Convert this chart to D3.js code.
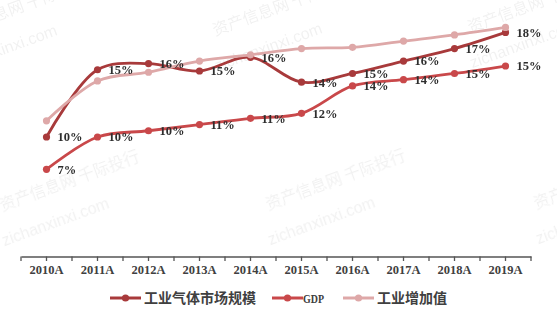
<!DOCTYPE html>
<html>
<head>
<meta charset="utf-8">
<script src="https://cdn.jsdelivr.net/npm/d3@7"></script>
<style>
  body { margin: 0; background: #fff; }
  svg { display: block; }
</style>
</head>
<body>
<svg id="chart" width="557" height="315"></svg>
<script>
// dades
const years = ["2010A", "2011A", "2012A", "2013A", "2014A", "2015A", "2016A", "2017A", "2018A", "2019A"];
const gasMarket = [9.6, 15.0, 15.5, 14.9, 16.0, 14.0, 14.7, 15.7, 16.7, 18.0];
const gdp = [7.0, 9.6, 10.1, 10.6, 11.1, 11.5, 13.7, 14.2, 14.7, 15.3];
const industryAdded = [10.9, 14.1, 14.8, 15.7, 16.2, 16.7, 16.8, 17.3, 17.8, 18.4];
const seriesNames = ["工业气体市场规模", "GDP", "工业增加值"];

const svg = d3.select("#chart");
const margin = { top: 7.5, left: 21, right: 26, bottom: 58.5 };
const width = +svg.attr("width") - margin.left - margin.right;
const height = +svg.attr("height") - margin.top - margin.bottom;

// marca d'aigua
const wm = svg.append("g").style("fill", "#000").style("opacity", 0.055)
  .style("font-family", "'Noto Sans CJK SC', sans-serif").style("font-size", "16px");
[[-50, 38], [215, 36], [470, 33], [2, 211], [268, 210], [536, 209]].forEach(p => {
  const t = wm.append("g").attr("transform", `translate(${p[0]},${p[1]}) rotate(-20)`);
  t.append("text").text("资产信息网 千际投行");
  t.append("text").attr("x", -10).attr("y", 34).style("font-family", "Arial, 'Liberation Sans', sans-serif").text("zichanxinxi.com");
});

const g = svg.append("g").attr("transform", `translate(${margin.left},${margin.top})`);

// Escales
const x = d3.scaleBand().domain(years).range([0, width]);
const y = d3.scaleLinear().domain([0, 20]).range([height, 0]);

// eix X
const xAxis = g.append("g")
  .attr("transform", `translate(0,${height})`)
  .call(d3.axisBottom(x).tickSize(0).tickPadding(9));
xAxis.select(".domain").attr("stroke", "#555").attr("stroke-width", 1.5);
xAxis.selectAll("text")
  .style("font-family", "'Liberation Serif', serif")
  .style("font-weight", "bold")
  .style("font-size", "12.5px")
  .style("fill", "#404040");

// marques: límits i centres de categoria
const tickPos = d3.range(0, years.length * 2 + 1).map(i => i * x.bandwidth() / 2);
xAxis.selectAll(".tk").data(tickPos).enter().append("line")
  .attr("x1", d => d).attr("x2", d => d)
  .attr("y1", 0).attr("y2", 4.5)
  .attr("stroke", "#555").attr("stroke-width", 1.3);

const cx = d => x(d) + x.bandwidth() / 2;

const series = [
  { name: seriesNames[0], values: gasMarket, color: "#a83a3b", labels: true },
  { name: seriesNames[1], values: gdp, color: "#c9484a", labels: true },
  { name: seriesNames[2], values: industryAdded, color: "#dea8a8", labels: false }
];

const line = d3.line()
  .x((d, i) => cx(years[i]))
  .y(d => y(d))
  .curve(d3.curveCatmullRom.alpha(0.5));

series.forEach(s => {
  g.append("path")
    .datum(s.values)
    .attr("fill", "none")
    .attr("stroke", s.color)
    .attr("stroke-width", 2.8)
    .attr("d", line);
  g.selectAll(null).data(s.values).enter().append("circle")
    .attr("cx", (d, i) => cx(years[i]))
    .attr("cy", d => y(d))
    .attr("r", 3.6)
    .attr("fill", s.color);
});

// etiquetes
series.filter(s => s.labels).forEach(s => {
  g.selectAll(null).data(s.values).enter().append("text")
    .attr("x", (d, i) => cx(years[i]) + 11)
    .attr("y", d => y(d))
    .attr("dy", "0.35em")
    .style("font-family", "'Liberation Serif', serif")
    .style("font-weight", "bold")
    .style("font-size", "12.5px")
    .style("fill", "#2e2e2e")
    .text(d => Math.round(d) + "%");
});

// llegenda
const legendPos = [110, 272, 343];
const legend = svg.append("g").attr("transform", "translate(0,298)");
series.forEach((s, i) => {
  const lg = legend.append("g").attr("transform", `translate(${legendPos[i]},0)`);
  lg.append("line").attr("x1", 0).attr("x2", 31).attr("stroke", s.color).attr("stroke-width", 3);
  lg.append("circle").attr("cx", 15.5).attr("r", 3.6).attr("fill", s.color);
  const t = lg.append("text")
    .attr("x", i === 1 ? 31 : 34)
    .attr("dy", "0.36em")
    .style("fill", "#404040")
    .text(s.name);
  if (i === 1) {
    t.style("font-family", "'Liberation Serif', serif").style("font-weight", "bold").style("font-size", "13px")
      .attr("textLength", 21).attr("lengthAdjust", "spacingAndGlyphs");
  } else {
    t.style("font-family", "'Noto Sans CJK SC', sans-serif").style("font-size", "14px").style("font-weight", "bold");
  }
});
</script>
</body>
</html>
